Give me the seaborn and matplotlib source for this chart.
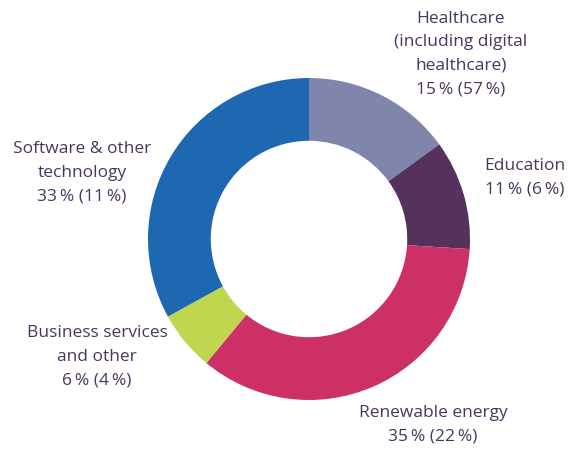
import matplotlib
matplotlib.use("Agg")
import matplotlib.pyplot as plt
import seaborn as sns

# sector shares of the portfolio, clockwise from 12 o'clock
sectors = ["Healthcare\n(including digital\nhealthcare)", "Education", "Renewable energy",
           "Business services\nand other", "Software & other\ntechnology"]
share = [15, 11, 35, 6, 33]
share_prev = [57, 6, 22, 4, 11]
colors = ["#8086ab", "#55325b", "#cd3067", "#bfd64e", "#1d68b0"]

# label anchor points (data units, pie radius = 1)
label_xy = [(0.944, 1.149), (1.342, 0.379), (0.77, -1.155), (-1.317, -0.733), (-1.41, 0.41)]

sns.set_theme(style="white")
plt.rcParams["font.family"] = ["Open Sans", "DejaVu Sans"]

fig = plt.figure(figsize=(5.82, 4.51), dpi=100)
ax = fig.add_axes([0, 0, 1, 1])

ax.pie(share, colors=colors, startangle=90, counterclock=False,
       wedgeprops=dict(width=0.39, linewidth=0))

txt_color = "#4b3560"
for name, s, p, (x, y) in zip(sectors, share, share_prev, label_xy):
    ax.text(x, y, f"{name}\n{s}\u2009% ({p}\u2009%)", ha="center", va="center",
            fontsize=12.5, color=txt_color, linespacing=1.63)

ax.set_xlim(-309 / 161, (582 - 309) / 161)
ax.set_ylim((239 - 451) / 161, 239 / 161)
ax.set_aspect("equal")
ax.axis("off")

fig.savefig("out.png", dpi=100)
